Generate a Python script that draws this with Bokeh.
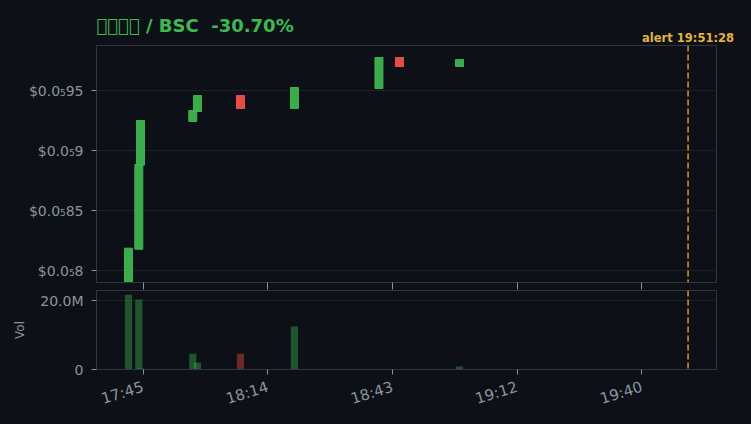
from bokeh.plotting import figure
from bokeh.layouts import column
from bokeh.models import (FixedTicker, CustomJSTickFormatter, Span, LinearAxis,
                          ColumnDataSource, Range1d)
from bokeh.embed import file_html
from bokeh.resources import INLINE

# ---------------- data ----------------
title_text = "\ue000\ue001\ue002\ue003 / BSC \u00a0-30.70%"
alert_text = "alert 19:51:28"
alert_time = "19:51:28"

candle_times = ["17:42:20", "17:44:43", "17:45:06", "17:57:10", "17:58:15",
                "18:08:11", "18:20:38", "18:40:08", "18:44:52", "18:58:43"]
opens = [7.800e-6, 8.177e-6, 8.878e-6, 9.242e-6, 9.325e-6,
         9.458e-6, 9.350e-6, 9.517e-6, 9.775e-6, 9.700e-6]
closes = [8.186e-6, 8.883e-6, 9.250e-6, 9.333e-6, 9.458e-6,
          9.350e-6, 9.525e-6, 9.775e-6, 9.700e-6, 9.758e-6]
volumes = [21.7e6, 20.3e6, 0.3e6, 4.6e6, 2.0e6, 4.6e6, 12.5e6, 0.0, 0.0, 0.9e6]

price_ticks = [8.0e-6, 8.5e-6, 9.0e-6, 9.5e-6]
price_tick_labels = ["$0.0₅8", "$0.0₅85", "$0.0₅9", "$0.0₅95"]
volume_ticks = [0.0, 20e6]
volume_tick_labels = ["0", "20.0M"]
time_ticks = ["17:45:42", "18:14:29", "18:43:16", "19:12:02", "19:40:49"]
time_tick_labels = ["17:45", "18:14", "18:43", "19:12", "19:40"]


def to_min(s):
    h, m, sec = (int(v) for v in s.split(":"))
    return h * 60 + m + sec / 60.0


# ---------------- style ----------------
BG = "#0d1117"
GREEN = "#3fb950"
RED = "#f85149"
GRID = "#1c2128"
BORDER = "#30363d"
TXT = "#8b949e"
FONT = "DejaVu Sans"

xs = [to_min(t) for t in candle_times]
up = [c >= o for o, c in zip(opens, closes)]
src = ColumnDataSource(dict(
    x=xs,
    top=[max(o, c) for o, c in zip(opens, closes)],
    bottom=[min(o, c) for o, c in zip(opens, closes)],
    vol=volumes,
    color=[GREEN if u else RED for u in up],
))

x_range = Range1d(1054.95, 1198.03)
tick_pos = [to_min(t) for t in time_ticks]
alert_x = to_min(alert_time)


def fmt(tvals, tlabels):
    return CustomJSTickFormatter(args=dict(tvals=tvals, tlabels=tlabels), code="""
        let best = 0, bd = Infinity;
        for (let i = 0; i < tvals.length; i++) {
            const d = Math.abs(tvals[i] - tick);
            if (d < bd) { bd = d; best = i; }
        }
        return tlabels[best];
    """)


def style(p):
    p.background_fill_color = BG
    p.border_fill_color = BG
    p.outline_line_color = BORDER
    p.xgrid.visible = False
    p.ygrid.grid_line_color = GRID
    for ax in p.axis:
        ax.axis_line_color = BORDER
        ax.major_tick_line_color = TXT
        ax.major_tick_in = 0
        ax.major_tick_out = 5
        ax.minor_tick_line_color = None
        ax.major_label_text_color = TXT
        ax.major_label_text_font = FONT
        ax.major_label_text_font_size = "14px"


W = 745
p1 = figure(width=W, height=290, x_range=x_range,
            y_range=Range1d(7.9e-6, 9.875e-6),
            output_backend="svg", toolbar_location=None,
            min_border_left=96, min_border_right=W - 716,
            min_border_top=45, min_border_bottom=8)
style(p1)
p1.title.text = title_text
p1.title.text_color = GREEN
p1.title.text_font = FONT
p1.title.text_font_size = "18px"
p1.title.text_font_style = "bold"
p1.title.align = "left"
p1.title.vertical_align = "bottom"
try:
    p1.title.standoff = -16
except Exception:
    p1.title.standoff = 0

p1.vbar(x="x", width=1.85, top="top", bottom="bottom", source=src,
        fill_color="color", line_color="color", fill_alpha=0.92, line_alpha=0.92)

p1.yaxis.ticker = FixedTicker(ticks=price_ticks)
p1.yaxis.formatter = fmt(price_ticks, price_tick_labels)
p1.yaxis.major_label_standoff = 8
p1.xaxis.ticker = FixedTicker(ticks=tick_pos)
p1.xaxis.major_label_text_color = None
p1.xaxis.major_label_text_font_size = "1px"
p1.xaxis.major_label_standoff = 0
p1.xaxis.major_tick_out = 7

# alert marker: dashed line plus its label above the frame
alert_axis = LinearAxis(ticker=FixedTicker(ticks=[alert_x]),
                        formatter=fmt([alert_x], [alert_text]))
alert_axis.axis_line_color = None
alert_axis.major_tick_line_color = None
alert_axis.major_tick_in = 0
alert_axis.major_tick_out = 0
alert_axis.minor_tick_line_color = None
alert_axis.major_label_standoff = 1
alert_axis.major_label_text_color = "#e3b341"
alert_axis.major_label_text_font = FONT
alert_axis.major_label_text_font_size = "11.5px"
alert_axis.major_label_text_font_style = "bold"
p1.add_layout(alert_axis, "above")
p1.add_layout(Span(location=alert_x, dimension="height", line_color="#d29922",
                   line_dash="6 3", line_width=1.5))

p2 = figure(width=W, height=130, x_range=x_range,
            y_range=Range1d(0, 22.9e6),
            output_backend="svg", toolbar_location=None,
            min_border_left=96, min_border_right=W - 716,
            min_border_top=0, min_border_bottom=51)
style(p2)
p2.vbar(x="x", width=1.65, top="vol", bottom=0, source=src,
        fill_color="color", line_color=None, fill_alpha=0.4)
p2.yaxis.ticker = FixedTicker(ticks=volume_ticks)
p2.yaxis.formatter = fmt(volume_ticks, volume_tick_labels)
p2.yaxis.major_label_standoff = 8
p2.yaxis.axis_label = "Vol"
p2.yaxis.axis_label_text_color = TXT
p2.yaxis.axis_label_text_font = FONT
p2.yaxis.axis_label_text_font_size = "12px"
p2.yaxis.axis_label_text_font_style = "normal"
p2.yaxis.axis_label_standoff = 10
p2.xaxis.ticker = FixedTicker(ticks=tick_pos)
p2.xaxis.formatter = fmt(tick_pos, time_tick_labels)
p2.xaxis.major_label_orientation = 0.3
p2.xaxis.major_label_text_font_size = "15px"
p2.xaxis.major_label_standoff = 12
p2.add_layout(Span(location=alert_x, dimension="height", line_color="#d29922",
                   line_dash="6 3", line_width=1.5))

layout = column(p1, p2, spacing=0)
html = file_html(layout, INLINE)
html = html.replace("</head>",
                    "<style>html,body{background:%s !important;}</style></head>" % BG, 1)
open("out.html", "w").write(html)
